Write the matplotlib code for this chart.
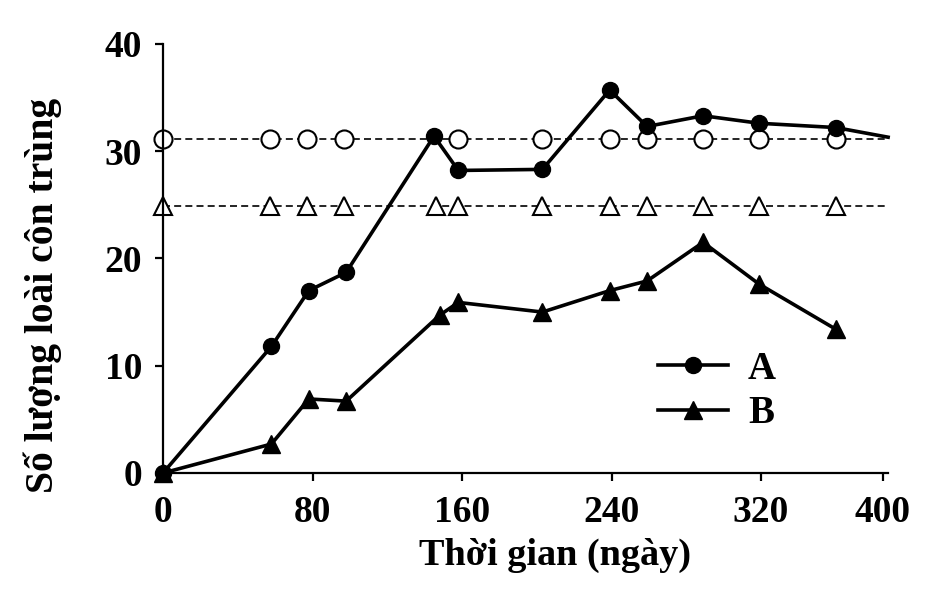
import matplotlib
matplotlib.use("Agg")
import matplotlib.pyplot as plt

plt.rcParams['font.family'] = ['Liberation Serif', 'DejaVu Serif']
plt.rcParams['font.weight'] = 'bold'

# Data
days_a = [0, 58, 78, 98, 145, 158, 203, 239, 259, 289, 319, 360, 388]
species_a = [0, 11.8, 17.0, 18.7, 31.4, 28.2, 28.3, 35.7, 32.3, 33.3, 32.6, 32.2, 31.3]

days_b = [0, 58, 78, 98, 148, 158, 203, 239, 259, 289, 319, 360]
species_b = [0, 2.7, 6.9, 6.7, 14.7, 15.9, 15.0, 17.0, 17.9, 21.5, 17.6, 13.4]

ref_circle_days = [0, 57, 77, 97, 158, 203, 239, 259, 289, 319, 360]
ref_circle_level = 31.1
ref_tri_days = [0, 57, 77, 97, 146, 158, 203, 239, 259, 289, 319, 360]
ref_tri_level = 24.9

x_ticks = [0, 80, 160, 240, 320, 385]
x_tick_labels = ['0', '80', '160', '240', '320', '400']
y_ticks = [0, 10, 20, 30, 40]

fig = plt.figure(figsize=(9.29, 6.01), dpi=100)
ax = fig.add_axes([0.1755, 0.213, 0.7805, 0.714])

x_end = 388
ax.set_xlim(0, x_end)
ax.set_ylim(0, 40)

# reference dashed lines
dash = (0, (4.2, 2.5))
ax.plot([0, x_end], [ref_circle_level]*2, ls=dash, lw=1.2, color='black', zorder=1, clip_on=False)
ax.plot([0, x_end], [ref_tri_level]*2, ls=dash, lw=1.2, color='black', zorder=1, clip_on=False)
ax.plot(ref_circle_days, [ref_circle_level]*len(ref_circle_days), ls='none', marker='o', ms=13,
        mfc='white', mec='black', mew=1.5, zorder=2, clip_on=False)
ax.plot(ref_tri_days, [ref_tri_level]*len(ref_tri_days), ls='none', marker='^', ms=13,
        mfc='white', mec='black', mew=1.5, zorder=2, clip_on=False)

ax.plot(days_a, species_a, color='black', lw=2.6, marker='o', ms=11.5,
        markevery=list(range(len(days_a) - 1)), zorder=4, clip_on=False, label='A')
ax.plot(days_b, species_b, color='black', lw=2.6, marker='^', ms=12.5,
        zorder=3, clip_on=False, label='B')

for s in ['top', 'right']:
    ax.spines[s].set_visible(False)
for s in ['left', 'bottom']:
    ax.spines[s].set_linewidth(1.6)

ax.set_xticks(x_ticks)
ax.set_xticklabels(x_tick_labels)
ax.set_yticks(y_ticks)
ax.tick_params(axis='both', direction='out', length=6, width=1.6, labelsize=27)
ax.tick_params(axis='x', pad=10)
ax.tick_params(axis='y', pad=9)
for lab in ax.get_xticklabels() + ax.get_yticklabels():
    lab.set_fontweight('bold')

ax.set_xlabel('Thời gian (ngày)', fontsize=27.5, fontweight='bold')
ax.xaxis.set_label_coords(0.541, -0.152)
ax.set_ylabel('Số lượng loài côn trùng', fontsize=28.5, fontweight='bold')
ax.yaxis.set_label_coords(-0.14, 0.413)

leg = ax.legend(loc='center left', bbox_to_anchor=(0.635, 0.19), frameon=False, fontsize=28,
                handlelength=1.8, handletextpad=0.5, labelspacing=0.2)
for t in leg.get_texts():
    t.set_fontweight('bold')

fig.savefig('out.png', dpi=100)
